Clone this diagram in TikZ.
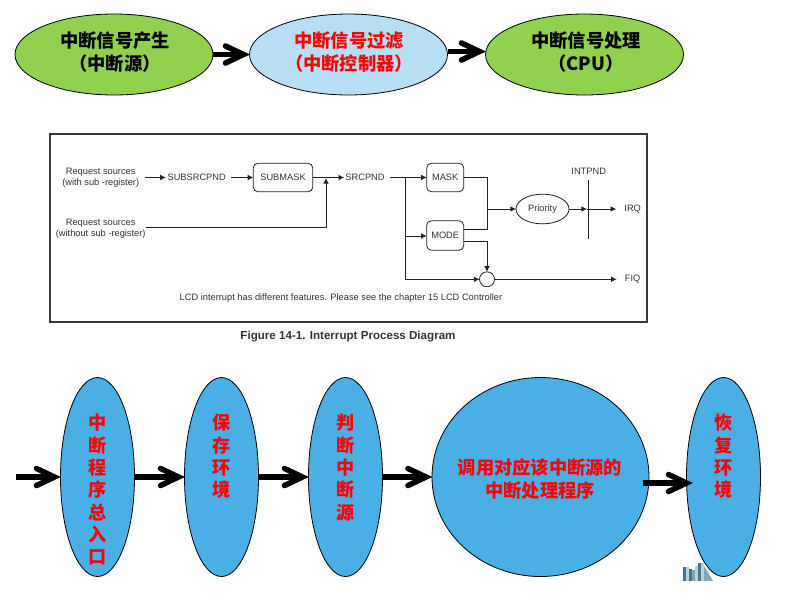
\documentclass[tikz,border=0pt]{standalone}
\usepackage{fontspec}
\setmainfont{Liberation Sans}
\newfontfamily\cjk{Noto Sans CJK SC}
\usetikzlibrary{arrows.meta,shapes.geometric,calc}
\def\px{0.75pt}
\definecolor{lgreen}{HTML}{92D050}
\definecolor{lblue}{HTML}{B7DEF2}
\definecolor{mblue}{HTML}{4AAFE4}
\definecolor{redtxt}{HTML}{FF0000}
\definecolor{diagline}{HTML}{222222}
\definecolor{frameline}{HTML}{3A3A3A}
\definecolor{difftxt}{HTML}{333333}
\definecolor{bdark}{HTML}{4F7485}
\definecolor{bmid}{HTML}{7FA6B4}
\definecolor{blight}{HTML}{B5D3DC}
\tikzset{
  x=\px,y=-\px,
  oval/.style={ellipse,draw=black,line width=0.6pt,inner sep=0pt,outer sep=0pt},
  topoval/.style={oval,minimum width=198*\px,minimum height=81*\px},
  tall/.style={oval,fill=mblue,minimum width=74*\px,minimum height=199*\px},
  cjktext/.style={font=\cjk\bfseries\fontsize{13.7pt}{17pt}\selectfont,align=center,inner sep=0pt},
  vtext/.style={font=\cjk\bfseries\fontsize{13.6pt}{16.75pt}\selectfont,align=center,inner sep=0pt,text=redtxt,anchor=north},
  shaft/.style={line width=5.5*\px,black},
  barbs/.style={line width=5.5*\px,black,line cap=round,line join=miter,miter limit=10},
  small/.style={font=\fontsize{6.96pt}{8.4pt}\selectfont,text=difftxt,align=center,inner sep=0pt},
  regbox/.style={draw=diagline,line width=0.6pt,rounded corners=3.5pt,inner sep=0pt,outer sep=0pt,font=\fontsize{6.96pt}{8.4pt}\selectfont,text=difftxt,minimum height=28.5*\px},
  wire/.style={draw=diagline,line width=0.6pt},
  tip/.style={wire,-{Latex[length=4.2pt,width=4.2pt]}},
}
% thick connector with a straight open chevron whose point lands on the second end
\newcommand{\bigarr}[2]{%
  \draw[shaft] #1 -- ($#2+(-6,0)$);
  \draw[barbs] ($#2+(-24,-8.5)$) -- ($#2+(-6,0)$) -- ($#2+(-24,8.5)$);
}
\begin{document}
\begin{tikzpicture}
\useasboundingbox (0,0) rectangle (787,597);
% top row
\node[topoval,fill=lgreen] (gen) at (114,54.5) {};
\node[topoval,fill=lblue] (flt) at (348.5,54.5) {};
\node[topoval,fill=lgreen] (cpu) at (584.5,54.5) {};
\node[cjktext] (gent) at (115,52) {中断信号产生\\（中断源）};
\node[cjktext,text=redtxt] (fltt) at (349,52) {中断信号过滤\\（中断控制器）};
\node[cjktext] (cput) at (586,52) {中断信号处理\\（CPU）};
\bigarr{(gen.east)}{(flt.west)}
\bigarr{([yshift=3*\px]flt.east)}{([yshift=3*\px]cpu.west)}
% middle figure
\node[draw=frameline,line width=1.4pt,minimum width=597*\px,minimum height=188*\px,inner sep=0pt] (frame) at (348.5,228) {};
\node[small] (req1) at (100.7,177.5) {Request sources\\(with sub -register)};
\node[small] (req2) at (100.7,228.5) {Request sources\\(without sub -register)};
\node[small] (subsrc) at (196.7,177.5) {SUBSRCPND};
\node[regbox,minimum width=59.5*\px] (submask) at (283,177.5) {SUBMASK};
\node[small] (src) at (365,177.5) {SRCPND};
\node[regbox,minimum width=37*\px] (mask) at (445.2,177.5) {MASK};
\node[regbox,minimum width=37*\px,minimum height=29.5*\px] (mode) at (445.2,235.5) {MODE};
\node[ellipse,draw=diagline,line width=0.6pt,minimum width=53*\px,minimum height=29.7*\px,inner sep=0pt,outer sep=0pt,font=\fontsize{6.96pt}{8.4pt}\selectfont,text=difftxt] (prio) at (542.5,209) {Priority};
\node[circle,draw=diagline,line width=0.6pt,minimum size=15*\px,inner sep=0pt,outer sep=0pt] (orgate) at (487,279.3) {};
\node[small] (intpnd) at (588.7,171) {INTPND};
\node[small] (irq) at (632.7,209) {IRQ};
\node[small] (fiq) at (632.7,279.3) {FIQ};
\node[small] (note) at (341,297.7) {LCD interrupt has different features. Please see the chapter 15 LCD Controller};
\node[font=\bfseries\fontsize{8.7pt}{10pt}\selectfont,text=difftxt,inner sep=0pt] (cap) at (348,336.7) {Figure 14-1. Interrupt Process Diagram};
% wires
\coordinate (bartop) at (588.7,180);
\coordinate (barbot) at (588.7,239);
\coordinate (merge) at (326,227);
\coordinate (fork) at (405.3,177.5);
\coordinate (join) at (487.3,209);
\draw[wire] (bartop) -- (barbot);
\draw[tip] (145,177.5) -- ([xshift=-1.5*\px]subsrc.west);
\draw[tip] ([xshift=4.5*\px]subsrc.east) -- (submask.west);
\draw[tip] (submask.east) -- ([xshift=-1*\px]src.west);
\draw[tip] (req2.east |- merge) -- (merge) -- (326,178);
\draw[tip] ([xshift=5*\px]src.east) -- (mask.west);
\draw[wire] (fork) -- (405.3,279.3);
\draw[tip] (405.3,236) -- (mode.west |- 405.3,236);
\draw[tip] (405.3,279.3) -- (orgate.west);
\draw[wire] (mask.east) -- (487.3,177.5) -- (487.3,229.7) -- (mode.east |- 487.3,229.7);
\draw[tip] (join) -- (prio.west);
\draw[tip] (mode.east |- 487,241) -- (487,241) -- (orgate.north);
\draw[tip] (prio.east) -- (587,209);
\draw[tip] (587,209) -- ([xshift=-8*\px]irq.west);
\draw[tip] (orgate.east) -- ([xshift=-8*\px]fiq.west);
% building thumbnail
\fill[bdark] (683,567) rectangle (686,581);
\fill[blight] (686,567) rectangle (689,581);
\fill[bdark] (689,569) rectangle (692,581);
\fill[bmid] (692,570) rectangle (695,581);
\fill[blight] (695,566) rectangle (698,581);
\fill[bdark] (698,563) rectangle (701,581);
\fill[blight] (701,563) rectangle (704,581);
\fill[bmid] (704,566) -- (713,581) -- (704,581) -- cycle;
% bottom row
\node[tall] (e1) at (97.5,477) {};
\node[tall] (e2) at (221.5,477) {};
\node[tall] (e3) at (345.5,477) {};
\node[oval,fill=mblue,minimum width=217*\px,minimum height=199*\px] (e4) at (540.5,477) {};
\node[tall] (e5) at (723.5,477) {};
\node[vtext] (t1) at (97.5,414) {中\\断\\程\\序\\总\\入\\口};
\node[vtext] (t2) at (221.5,414) {保\\存\\环\\境};
\node[vtext] (t3) at (345.5,414) {判\\断\\中\\断\\源};
\node[cjktext,text=redtxt] (t4) at (540,479) {调用对应该中断源的\\中断处理程序};
\node[vtext] (t5) at (723.5,414) {恢\\复\\环\\境};
\coordinate (start) at (16,477);
\bigarr{(start)}{(e1.west)}
\bigarr{(e1.east)}{(e2.west)}
\bigarr{(e2.east)}{(e3.west)}
\bigarr{(e3.east)}{(e4.west)}
\bigarr{([xshift=-6*\px,yshift=-6*\px]e4.east)}{([xshift=6*\px,yshift=-6*\px]e5.west)}
\end{tikzpicture}
\end{document}
